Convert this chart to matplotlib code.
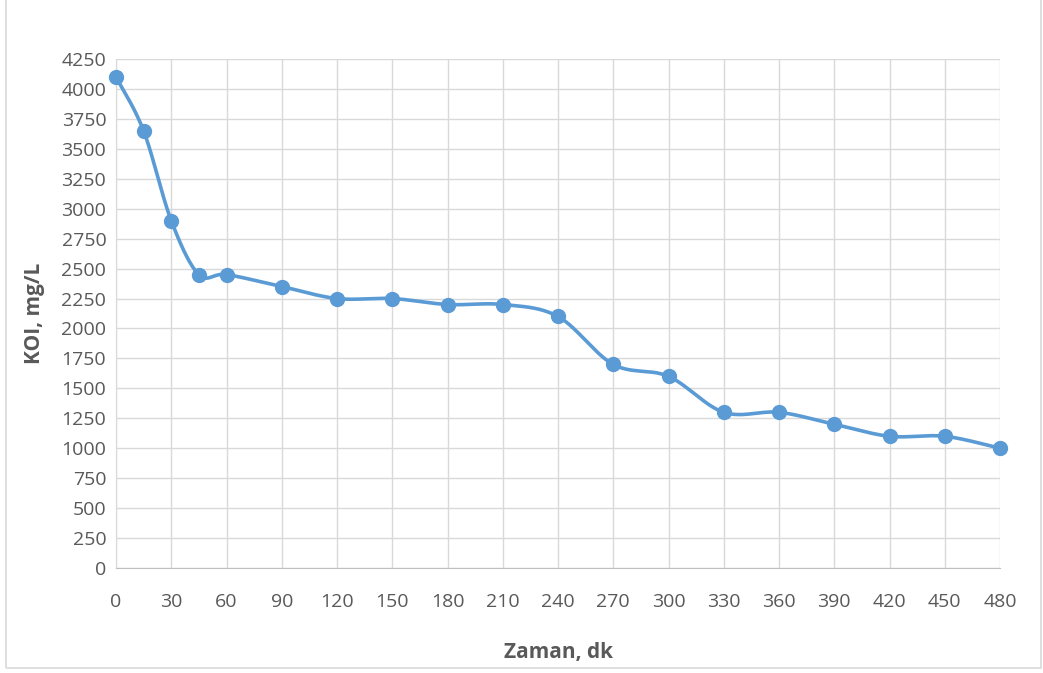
import numpy as np
import matplotlib
matplotlib.use("Agg")
import matplotlib.pyplot as plt
from matplotlib.patches import Rectangle

time_min = [0, 15, 30, 45, 60, 90, 120, 150, 180, 210, 240, 270, 300, 330, 360, 390, 420, 450, 480]
koi = [4100, 3650, 2900, 2450, 2450, 2350, 2250, 2250, 2200, 2200, 2100, 1700, 1600, 1300, 1300, 1200, 1100, 1100, 1000]
x_ticks = list(range(0, 481, 30))
y_ticks = list(range(0, 4251, 250))


def smooth(xs, ys, sx, sy, n=30):
    # Excel-like bezier smoothing, control points from neighbours (computed in scaled space)
    p = np.column_stack([np.asarray(xs, float) / sx, np.asarray(ys, float) / sy])
    out = []
    for i in range(len(p) - 1):
        p0 = p[i - 1] if i > 0 else p[i]
        p1, p2 = p[i], p[i + 1]
        p3 = p[i + 2] if i + 2 < len(p) else p[i + 1]
        c1 = p1 + (p2 - p0) / 6.0
        c2 = p2 - (p3 - p1) / 6.0
        t = np.linspace(0, 1, n)[:, None]
        seg = (1 - t) ** 3 * p1 + 3 * (1 - t) ** 2 * t * c1 + 3 * (1 - t) * t ** 2 * c2 + t ** 3 * p2
        out.append(seg if i == 0 else seg[1:])
    out = np.vstack(out)
    return out[:, 0] * sx, out[:, 1] * sy


plt.rcParams["font.family"] = ["Open Sans", "DejaVu Sans"]

fig = plt.figure(figsize=(10.43, 6.73), dpi=100)
ax = fig.add_axes([116 / 1043, 1 - 568 / 673, 884 / 1043, 509 / 673])

# scale: px per unit on each axis
sx = 480 / 884
sy = 4250 / 509
lx, ly = smooth(time_min, koi, sx, sy)
ax.plot(lx, ly, color="#5b9bd5", lw=2.6, zorder=3, solid_capstyle="round", clip_on=False)
ax.plot(time_min, koi, "o", color="#5b9bd5", ms=10, zorder=4, clip_on=False)

ax.set_xlim(0, 480)
ax.set_ylim(0, 4250)
ax.set_xticks(x_ticks)
ax.set_yticks(y_ticks)
ax.grid(True, color="#d9d9d9", lw=1)
ax.set_axisbelow(True)
for s in ["top", "right"]:
    ax.spines[s].set_visible(False)
ax.spines["left"].set_color("#d9d9d9")
ax.spines["bottom"].set_color("#bfbfbf")
ax.tick_params(length=0, labelsize=14, colors="#595959", pad=7)
ax.tick_params(axis="x", pad=18)

ax.set_xlabel("Zaman, dk", fontsize=15, fontweight="bold", color="#595959", labelpad=22)
ax.set_ylabel("KOI, mg/L", fontsize=15, fontweight="bold", color="#595959", labelpad=12)

fig.patches.append(Rectangle((6 / 1043, 5 / 673), 1035 / 1043, 1.1, transform=fig.transFigure,
                             fill=False, edgecolor="#d9d9d9", lw=1.2))

fig.savefig("out.png", dpi=100)
